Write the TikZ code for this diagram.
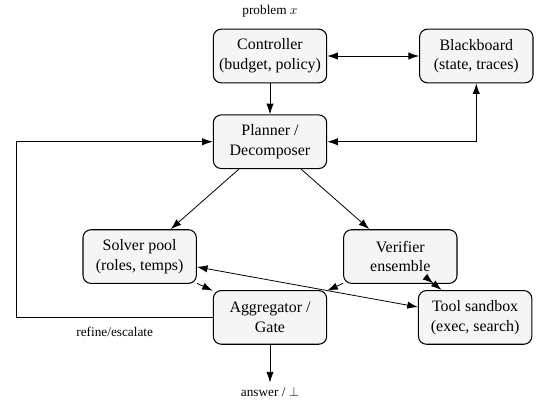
\documentclass[tikz,border=0pt]{standalone}
\usepackage{fontspec}
\setmainfont{Liberation Serif}
\usetikzlibrary{arrows.meta,positioning}

\begin{document}
\begin{tikzpicture}[
        block/.style={rectangle, draw, fill=black!4, line width=0.8pt,
                      align=center, rounded corners=6pt,
                      minimum width=3cm, minimum height=1.42cm,
                      font=\fontsize{12}{14.8}\selectfont},
        note/.style={font=\fontsize{10}{12}\selectfont},
        line/.style={draw, line width=0.6pt, ->},
        >={Latex[length=8pt,width=5.5pt]}
    ]
    \useasboundingbox (-7.144,1.482) rectangle (7.038,-9.208);

    \node [block] (controller) {Controller\\(budget, policy)};
    \node [block, right=2.43cm of controller] (blackboard) {Blackboard\\(state, traces)};
    \node [block, below=0.82cm of controller] (planner) {Planner /\\Decomposer};
    \node [block, below left=1.59cm and 0.42cm of planner] (solver) {Solver pool\\(roles, temps)};
    \node [block, below right=1.59cm and 0.42cm of planner] (verifier) {Verifier\\ensemble};
    \node [block, below=3.2cm of planner] (aggregator) {Aggregator /\\Gate};
    \node [block, right=2.4cm of aggregator] (tool) {Tool sandbox\\(exec, search)};

    % Input and output
    \node [note, above=0.18cm of controller] (problem) {problem $x$};
    \node [note, below=1cm of aggregator] (answer) {answer / $\bot$};

    \draw [line] (controller) -- (planner);
    \draw [line, <->] (controller) -- (blackboard);
    \draw [line, <->] (planner) -| (blackboard);
    \draw [line] (planner) -- (solver);
    \draw [line] (planner) -- (verifier);
    \draw [line, <->] (solver) -- (tool);
    \draw [line] (solver) -- (aggregator);
    \draw [line] (verifier) -- (aggregator);
    \draw [line, ->>] (verifier) -- (tool);
    \draw [line] (aggregator) -- (answer);

    % Feedback loop
    \draw [line] (aggregator.west) -- ++(-5.19,0)
        node [note, midway, below=4pt] {refine/escalate} |- (planner.west);
\end{tikzpicture}
\end{document}
